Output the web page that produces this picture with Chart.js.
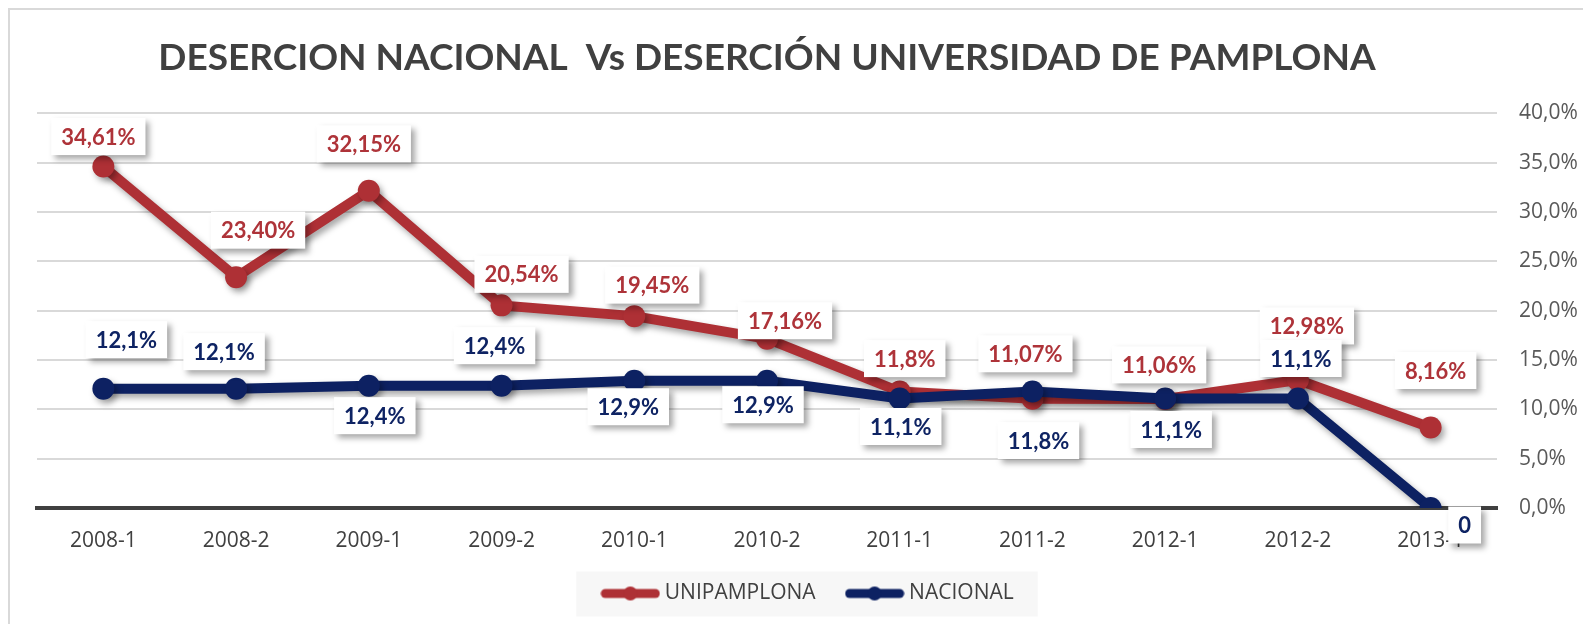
<!DOCTYPE html>
<html>
<head>
<meta charset="utf-8">
<script src="https://cdn.jsdelivr.net/npm/chart.js@4/dist/chart.umd.min.js"></script>
<style>
  html, body { margin: 0; padding: 0; background: #fff; }
</style>
</head>
<body>
<canvas id="grafico-desercion" width="1583" height="624"></canvas>
<script>
// datos
var periodos = ['2008-1', '2008-2', '2009-1', '2009-2', '2010-1', '2010-2', '2011-1', '2011-2', '2012-1', '2012-2', '2013-1'];
var unipamplona = [34.61, 23.40, 32.15, 20.54, 19.45, 17.16, 11.8, 11.07, 11.06, 12.98, 8.16];
var nacional = [12.1, 12.1, 12.4, 12.4, 12.9, 12.9, 11.1, 11.8, 11.1, 11.1, 0];
var textosUnipamplona = ['34,61%', '23,40%', '32,15%', '20,54%', '19,45%', '17,16%', '11,8%', '11,07%', '11,06%', '12,98%', '8,16%'];
var textosNacional = ['12,1%', '12,1%', '12,4%', '12,4%', '12,9%', '12,9%', '11,1%', '11,8%', '11,1%', '11,1%', '0'];
var yMin = 0, yMax = 40, yPaso = 5;

// desplazamiento de cada etiqueta respecto a su punto (px)
var posUnipamplona = [[-5, -30], [22, -47], [-5, -47], [20, -31], [18, -31], [18, -18], [5, -33], [-7, -45], [-6, -34], [9, -54], [5, -57]];
var posNacional = [[23, -49], [-12, -37], [6, 30], [-7, -40], [-6, 26], [-4, 24], [1, 28], [6, 49], [6, 31], [3, -40], [34, 17]];

var rojo = '#AE3035';
var azul = '#0D2162';

function simbolo(color) {
    var c = document.createElement('canvas');
    c.width = 60; c.height = 22;
    var g = c.getContext('2d');
    g.strokeStyle = color; g.lineWidth = 9; g.lineCap = 'round';
    g.beginPath(); g.moveTo(5, 11); g.lineTo(55, 11); g.stroke();
    g.fillStyle = color;
    g.beginPath(); g.arc(30, 11, 7, 0, Math.PI * 2); g.fill();
    return c;
}

// marco gris y fondo de la leyenda
var fondo = {
    id: 'fondo',
    beforeDraw: function (chart) {
        var ctx = chart.ctx;
        ctx.save();
        ctx.strokeStyle = '#D9D9D9';
        ctx.lineWidth = 2;
        ctx.beginPath();
        ctx.moveTo(9, 624); ctx.lineTo(9, 9); ctx.lineTo(1583, 9);
        ctx.stroke();
        var cajas = chart.legend.legendHitBoxes;
        if (cajas && cajas.length) {
            var izq = cajas[0].left - 30;
            var ult = cajas[cajas.length - 1];
            var der = ult.left + ult.width + 24;
            var cy = cajas[0].top + cajas[0].height / 2;
            ctx.fillStyle = '#F7F7F7';
            ctx.fillRect(izq, cy - 22, der - izq, 45);
        }
        ctx.restore();
    }
};

// sombra de las lineas
var sombra = {
    id: 'sombra',
    beforeDatasetDraw: function (chart) {
        var ctx = chart.ctx;
        ctx.save();
        ctx.shadowColor = 'rgba(0,0,0,0.35)';
        ctx.shadowBlur = 6;
        ctx.shadowOffsetX = 3;
        ctx.shadowOffsetY = 4;
    },
    afterDatasetDraw: function (chart) {
        chart.ctx.restore();
    }
};

// etiquetas con recuadro blanco
var etiquetas = {
    id: 'etiquetas',
    afterDatasetsDraw: function (chart) {
        var ctx = chart.ctx;
        chart.data.datasets.forEach(function (ds, d) {
            var meta = chart.getDatasetMeta(d);
            meta.data.forEach(function (pt, i) {
                var txt = ds.textos[i];
                var x = pt.x + ds.posiciones[i][0];
                var y = pt.y + ds.posiciones[i][1];
                ctx.save();
                ctx.font = 'bold 22px Lato';
                var w = ctx.measureText(txt).width + 20;
                var h = 37;
                ctx.shadowColor = 'rgba(0,0,0,0.35)';
                ctx.shadowBlur = 6;
                ctx.shadowOffsetX = 4;
                ctx.shadowOffsetY = 4;
                ctx.fillStyle = '#FFFFFF';
                ctx.fillRect(x - w / 2, y - h / 2, w, h);
                ctx.restore();
                ctx.save();
                ctx.font = 'bold 22px Lato';
                ctx.fillStyle = ds.colorTexto;
                ctx.textAlign = 'center';
                ctx.textBaseline = 'middle';
                ctx.fillText(txt, x, y + 1);
                ctx.restore();
            });
        });
    }
};

var ctx = document.getElementById('grafico-desercion').getContext('2d');
var grafico = new Chart(ctx, {
    type: 'line',
    data: {
        labels: periodos,
        datasets: [{
            label: 'UNIPAMPLONA',
            data: unipamplona,
            textos: textosUnipamplona,
            posiciones: posUnipamplona,
            colorTexto: '#AE3339',
            borderColor: rojo,
            backgroundColor: rojo,
            pointBackgroundColor: rojo,
            pointBorderWidth: 0,
            pointRadius: 11,
            borderWidth: 10,
            order: 1
        }, {
            label: 'NACIONAL',
            data: nacional,
            textos: textosNacional,
            posiciones: posNacional,
            colorTexto: '#0E2363',
            borderColor: azul,
            backgroundColor: azul,
            pointBackgroundColor: azul,
            pointBorderWidth: 0,
            pointRadius: 11,
            borderWidth: 10,
            order: 0
        }]
    },
    options: {
        responsive: false,
        animation: false,
        events: [],
        devicePixelRatio: 1,
        layout: { padding: { left: 37, right: 0, top: 0, bottom: 10 } },
        plugins: {
            title: {
                display: true,
                text: 'DESERCION NACIONAL  Vs DESERCIÓN UNIVERSIDAD DE PAMPLONA',
                color: '#404040',
                fullSize: false,
                font: { family: 'Lato', size: 37, weight: 'bold' },
                padding: { top: 36, bottom: 33 }
            },
            legend: {
                position: 'bottom',
                labels: {
                    usePointStyle: true,
                    pointStyleWidth: 48,
                    padding: 35,
                    color: '#404040',
                    font: { family: 'Open Sans', size: 21 },
                    sort: function (a, b) { return a.datasetIndex - b.datasetIndex; },
                    generateLabels: function (chart) {
                        return chart.data.datasets.map(function (ds, i) {
                            return {
                                text: ds.label,
                                pointStyle: simbolo(ds.borderColor),
                                fillStyle: ds.borderColor,
                                strokeStyle: ds.borderColor,
                                lineWidth: 0,
                                fontColor: '#404040',
                                datasetIndex: i
                            };
                        });
                    }
                }
            },
            tooltip: { enabled: false }
        },
        scales: {
            x: {
                offset: true,
                grid: { display: false },
                border: { display: true, color: '#404040', width: 4 },
                ticks: { color: '#404040', padding: 12, font: { family: 'Open Sans', size: 21 } },
                afterFit: function (s) { s.height = 40; }
            },
            y: {
                position: 'right',
                min: yMin,
                max: yMax,
                grid: {
                    color: function (c) { return c.tick.value === 0 ? 'rgba(0,0,0,0)' : '#D9D9D9'; },
                    lineWidth: 2,
                    drawTicks: false
                },
                border: { display: false },
                ticks: {
                    stepSize: yPaso,
                    padding: 22,
                    color: '#595959',
                    font: { family: 'Open Sans', size: 21 },
                    callback: function (v) { return v.toFixed(1).replace('.', ',') + '%'; }
                },
                afterFit: function (s) { s.width = 86; }
            }
        }
    },
    plugins: [fondo, sombra, etiquetas]
});
</script>
</body>
</html>
